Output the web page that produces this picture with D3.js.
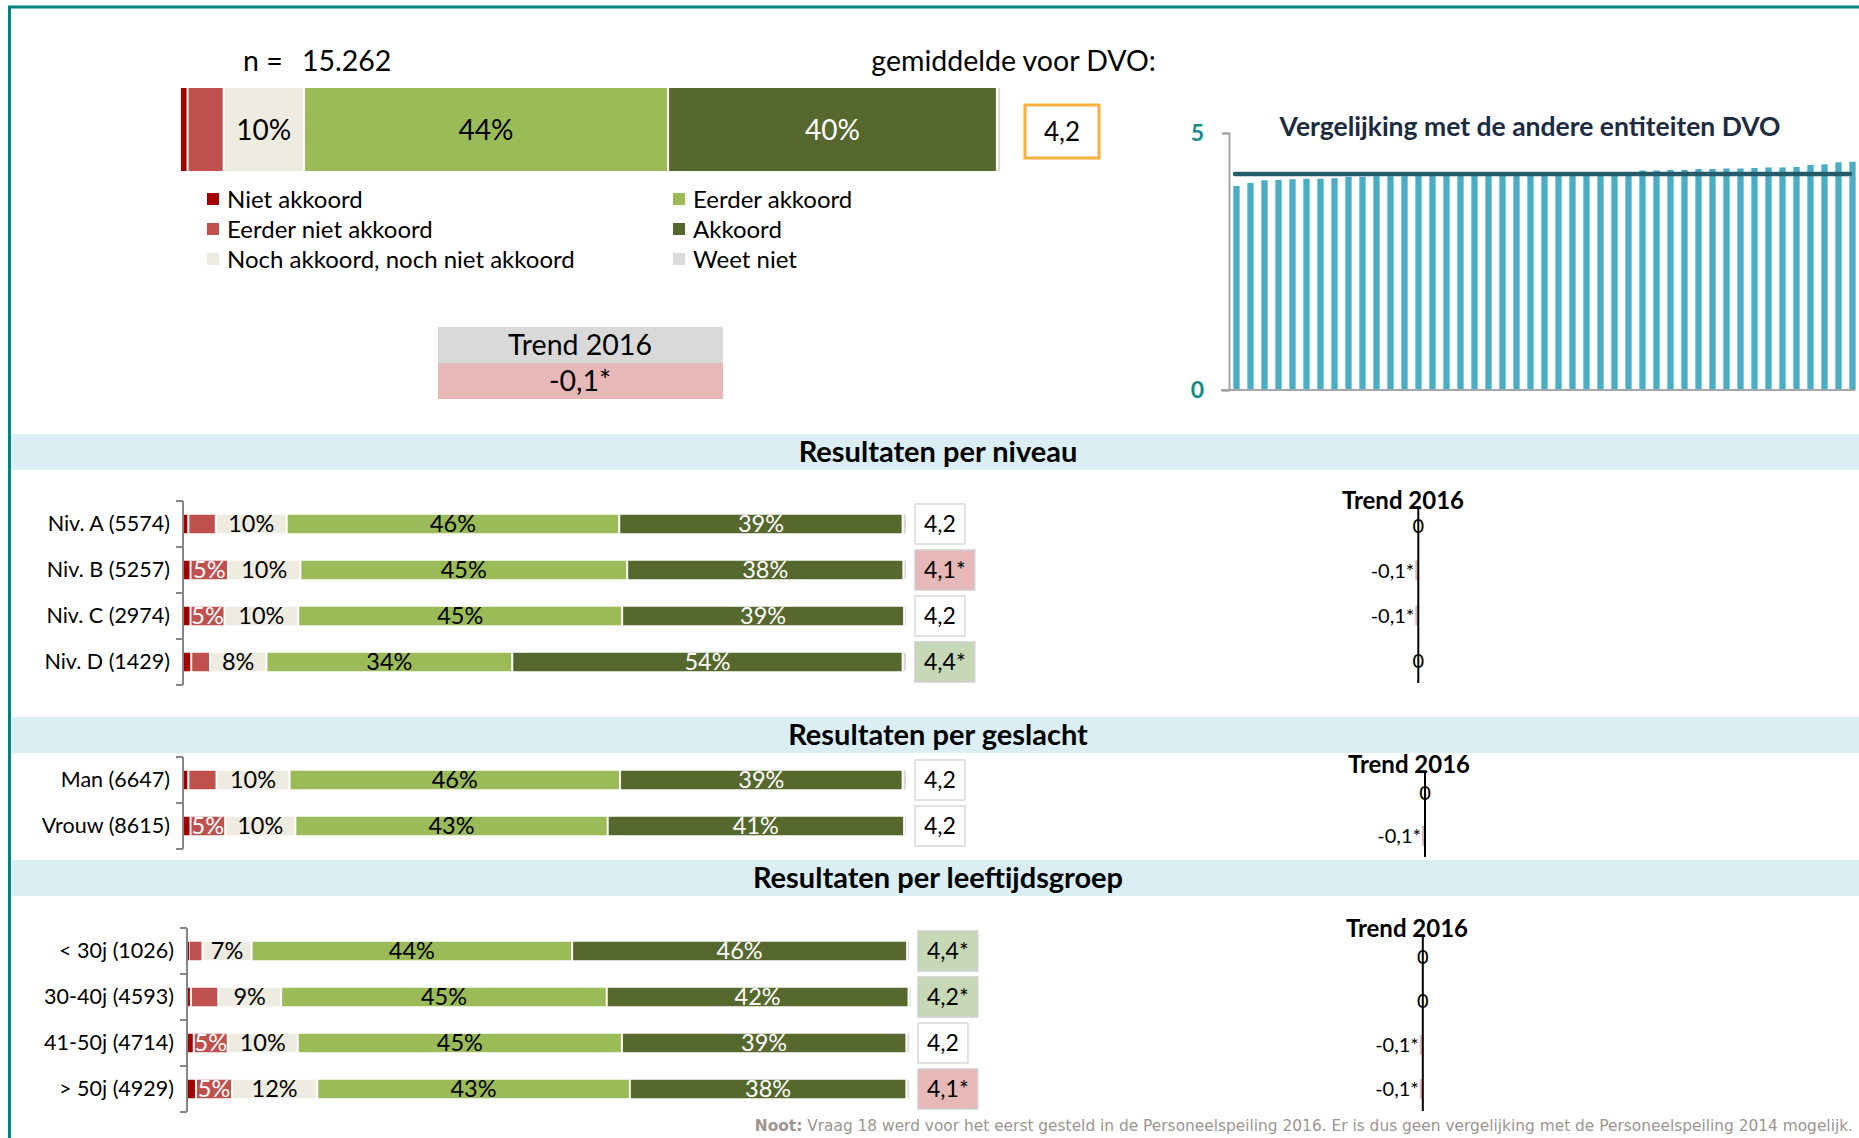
<!DOCTYPE html>
<html>
<head>
<meta charset="utf-8">
<script src="https://cdnjs.cloudflare.com/ajax/libs/d3/7.8.5/d3.min.js"></script>
<style>
  body { margin: 0; background: #fff; }
  svg { display: block; font-family: Lato, "Open Sans", sans-serif; }
</style>
</head>
<body>
<div id="chart"></div>
<script>
// ---- data ----
var answerCategories = ["Niet akkoord", "Eerder niet akkoord", "Noch akkoord, noch niet akkoord",
                        "Eerder akkoord", "Akkoord", "Weet niet"];

var totalN = "15.262";
var totalValues = [0.8, 4.4, 9.8, 44.4, 40.1, 0.5];
var totalMean = "4,2";
var totalTrend = "-0,1*";

var niveauLabels = ["Niv. A (5574)", "Niv. B (5257)", "Niv. C (2974)", "Niv. D (1429)"];
var niveauValues = [
    [0.6, 3.8, 9.8, 46.0, 39.2, 0.6],
    [0.9, 5.2, 10.0, 45.2, 38.2, 0.5],
    [0.9, 4.7, 10.2, 44.8, 39.0, 0.4],
    [1.0, 2.6, 7.8, 34.0, 54.0, 0.6]
];
var niveauMeans = ["4,2", "4,1*", "4,2", "4,4*"];
var niveauSignif = ["", "down", "", "up"];
var niveauTrend = [0, -0.1, -0.1, 0];
var niveauTrendLabels = ["0", "-0,1*", "-0,1*", "0"];

var geslachtLabels = ["Man (6647)", "Vrouw (8615)"];
var geslachtValues = [
    [0.6, 3.9, 10.1, 45.7, 39.1, 0.6],
    [0.9, 4.8, 9.7, 43.2, 41.0, 0.4]
];
var geslachtMeans = ["4,2", "4,2"];
var geslachtSignif = ["", ""];
var geslachtTrend = [0, -0.1];
var geslachtTrendLabels = ["0", "-0,1*"];

var leeftijdLabels = ["< 30j (1026)", "30-40j (4593)", "41-50j (4714)", "> 50j (4929)"];
var leeftijdValues = [
    [0.1, 1.9, 6.8, 44.4, 46.4, 0.4],
    [0.4, 3.8, 8.7, 45.1, 41.8, 0.2],
    [0.8, 4.7, 9.7, 44.9, 39.4, 0.5],
    [1.1, 5.0, 11.8, 43.3, 38.3, 0.5]
];
var leeftijdMeans = ["4,4*", "4,2*", "4,2", "4,1*"];
var leeftijdSignif = ["up", "up", "", "down"];
var leeftijdTrend = [0, 0, -0.1, -0.1];
var leeftijdTrendLabels = ["0", "0", "-0,1*", "-0,1*"];

// scores of the other DVO entities, sorted
var entityScores = [3.97, 4.03, 4.08, 4.09, 4.10, 4.11, 4.11, 4.12, 4.15, 4.15,
                    4.16, 4.16, 4.16, 4.17, 4.17, 4.17, 4.18, 4.18, 4.18, 4.19,
                    4.19, 4.19, 4.20, 4.20, 4.21, 4.21, 4.23, 4.24, 4.24, 4.27,
                    4.27, 4.28, 4.28, 4.30, 4.30, 4.31, 4.31, 4.32, 4.33, 4.33,
                    4.34, 4.38, 4.39, 4.43, 4.44];
var dvoMean = 4.2;
var entityTicks = [0, 5];

var noteBold = "Noot:";
var noteText = " Vraag 18 werd voor het eerst gesteld in de Personeelspeiling 2016. Er is dus geen vergelijking met de Personeelspeiling 2014 mogelijk.";

// ---- styles ----
var answerColors = ["#A50000", "#C0504D", "#EEECE1", "#9BBB59", "#56682D", "#DADADA"];
var labelColors = ["#fff", "#fff", "#000", "#000", "#fff", "#000"];
var boxFill = { "": "#fff", "down": "#E6B8B7", "up": "#C6D8B6" };
var teal = "#00827F";

var W = 1859, H = 1138;

var svg = d3.select("#chart")
    .append("svg")
        .attr("width", W)
        .attr("height", H);

// frame
svg.append("line").attr("x1", 8).attr("x2", W).attr("y1", 7).attr("y2", 7)
    .attr("stroke", teal).attr("stroke-width", 3);
svg.append("line").attr("x1", 9.5).attr("x2", 9.5).attr("y1", 6).attr("y2", H)
    .attr("stroke", teal).attr("stroke-width", 3);

// draws one stacked 100% bar
function stackedBar(g, values, xScale, yCenter, barH, fontSize) {
    var starts = [0].concat(Array.from(d3.cumsum(values)));
    var segs = values.map(function(v, i) { return { v: v, i: i, s: starts[i], e: starts[i] + v }; });

    g.selectAll(null)
        .data(segs)
        .enter()
        .append("rect")
            .attr("x", function(d) { return xScale(d.s) + (d.i > 0 ? 1 : 0); })
            .attr("width", function(d) { return Math.max(1, xScale(d.e) - xScale(d.s) - (d.i > 0 ? 2 : 1)); })
            .attr("y", yCenter - barH / 2)
            .attr("height", barH)
            .attr("fill", function(d) { return answerColors[d.i]; });

    g.selectAll(null)
        .data(segs.filter(function(d) { return Math.round(d.v) >= 5; }))
        .enter()
        .append("text")
            .attr("x", function(d) { return (xScale(d.s) + xScale(d.e)) / 2; })
            .attr("y", yCenter)
            .attr("dy", "0.36em")
            .attr("text-anchor", "middle")
            .attr("font-size", fontSize + "px")
            .attr("fill", function(d) { return labelColors[d.i]; })
            .text(function(d) { return Math.round(d.v) + "%"; });
}

// ---- top overview ----
svg.append("text").attr("x", 243).attr("y", 71).attr("font-size", "28.5px").text("n =");
svg.append("text").attr("x", 302).attr("y", 71).attr("font-size", "28.5px").text(totalN);
svg.append("text").attr("x", 1156).attr("y", 71).attr("font-size", "28.5px")
    .attr("text-anchor", "end").text("gemiddelde voor DVO:");

var xTotal = d3.scaleLinear().domain([0, 100]).range([181, 1001]);
var topG = svg.append("g");
stackedBar(topG, totalValues, xTotal, 129.5, 83, 28);

svg.append("rect").attr("x", 1025).attr("y", 105).attr("width", 74).attr("height", 53)
    .attr("fill", "#fff").attr("stroke", "#F8AF3C").attr("stroke-width", 3);
svg.append("text").attr("x", 1062).attr("y", 131.5).attr("dy", "0.36em")
    .attr("text-anchor", "middle").attr("font-size", "26px").text(totalMean);

// legend
var legend = svg.append("g")
    .selectAll("g")
    .data(answerCategories)
    .enter()
    .append("g")
        .attr("transform", function(d, i) {
            return "translate(" + (i < 3 ? 207 : 673) + "," + (199 + (i % 3) * 30) + ")";
        });
legend.append("rect").attr("x", 0).attr("y", -6).attr("width", 12).attr("height", 12)
    .attr("fill", function(d, i) { return answerColors[i]; });
legend.append("text").attr("x", 20).attr("dy", "0.36em").attr("font-size", "24px")
    .text(function(d) { return d; });

// trend box
svg.append("rect").attr("x", 438).attr("y", 327).attr("width", 285).attr("height", 36).attr("fill", "#D9D9D9");
svg.append("rect").attr("x", 438).attr("y", 363).attr("width", 285).attr("height", 36).attr("fill", "#E6B8B7");
svg.append("text").attr("x", 580).attr("y", 345).attr("dy", "0.36em").attr("text-anchor", "middle")
    .attr("font-size", "28.5px").text("Trend 2016");
svg.append("text").attr("x", 580).attr("y", 381).attr("dy", "0.36em").attr("text-anchor", "middle")
    .attr("font-size", "28.5px").text(totalTrend);

// ---- comparison with other entities ----
var xEnt = d3.scaleBand()
    .domain(d3.range(entityScores.length))
    .range([1229.5, 1859.5])
    .paddingInner(0.55)
    .paddingOuter(0.275);
var yEnt = d3.scaleLinear().domain([0, 5]).range([390, 133]);

svg.append("g")
    .selectAll("rect")
    .data(entityScores)
    .enter()
    .append("rect")
        .attr("x", function(d, i) { return xEnt(i); })
        .attr("width", xEnt.bandwidth())
        .attr("y", function(d) { return yEnt(d); })
        .attr("height", function(d) { return yEnt(0) - yEnt(d); })
        .attr("fill", "#4BACC6");

var yAxisEnt = svg.append("g")
    .attr("transform", "translate(1229,0)")
    .call(d3.axisLeft(yEnt).tickValues(entityTicks).tickFormat(d3.format("d"))
        .tickSize(7).tickPadding(18));
yAxisEnt.select(".domain").attr("stroke", "#A6A6A6").attr("stroke-width", 2);
yAxisEnt.selectAll(".tick line").attr("stroke", "#A6A6A6").attr("stroke-width", 2);
yAxisEnt.selectAll(".tick text")
    .attr("font-size", "23px").attr("font-weight", "bold").attr("fill", "#138C86")
    .attr("font-family", "Lato, sans-serif");

svg.append("line").attr("x1", 1221).attr("x2", 1855)
    .attr("y1", yEnt(0)).attr("y2", yEnt(0))
    .attr("stroke", "#A6A6A6").attr("stroke-width", 2);

svg.append("line")
    .attr("x1", 1235).attr("x2", 1850)
    .attr("y1", yEnt(dvoMean)).attr("y2", yEnt(dvoMean))
    .attr("stroke", "#245C6B").attr("stroke-width", 4.5)
    .attr("stroke-linecap", "round");

svg.append("text").attr("x", 1530).attr("y", 136).attr("text-anchor", "middle")
    .attr("font-size", "26.5px").attr("font-weight", "bold").attr("fill", "#1C2B3F")
    .text("Vergelijking met de andere entiteiten DVO");

// ---- breakdown sections ----
function section(cfg) {
    var g = svg.append("g");

    // header band
    g.append("rect").attr("x", 12).attr("y", cfg.bandY).attr("width", W - 12).attr("height", 36)
        .attr("fill", "#DAEEF3");
    g.append("text").attr("x", 938).attr("y", cfg.bandY + 18).attr("dy", "0.36em")
        .attr("text-anchor", "middle").attr("font-size", "29px").attr("font-weight", "bold")
        .text(cfg.title);

    var y = d3.scaleBand().domain(cfg.labels).range(cfg.rowRange);
    var x = d3.scaleLinear().domain([0, 100]).range(cfg.xRange);

    // bracket axis with category labels
    var axis = g.append("g")
        .attr("transform", "translate(" + cfg.xRange[0] + ",0)")
        .call(d3.axisLeft(y).tickSize(0).tickPadding(14));
    axis.select(".domain").remove();
    axis.selectAll(".tick text").attr("font-size", "21.5px").attr("font-family", "Lato, sans-serif")
        .attr("fill", "#000");
    var edges = cfg.labels.map(function(l) { return y(l); }).concat([cfg.rowRange[1]]);
    g.append("line").attr("x1", cfg.xRange[0] - 1).attr("x2", cfg.xRange[0] - 1)
        .attr("y1", cfg.rowRange[0]).attr("y2", cfg.rowRange[1])
        .attr("stroke", "#868686").attr("stroke-width", 2);
    g.selectAll(null).data(edges).enter().append("line")
        .attr("x1", cfg.xRange[0] - 8).attr("x2", cfg.xRange[0] - 1)
        .attr("y1", function(d) { return d; }).attr("y2", function(d) { return d; })
        .attr("stroke", "#868686").attr("stroke-width", 2);

    cfg.labels.forEach(function(lab, i) {
        var cy = y(lab) + y.bandwidth() / 2;
        stackedBar(g, cfg.values[i], x, cy, 18.5, 23.5);

        // mean box
        var bx = cfg.xRange[1] + 8;
        var box = g.append("rect").attr("x", bx).attr("y", cy - 20).attr("height", 40)
            .attr("fill", boxFill[cfg.signif[i]])
            .attr("stroke", cfg.signif[i] ? "#D0D0D0" : "#D9D9D9").attr("stroke-width", 1.5);
        var t = g.append("text").attr("x", bx + 9).attr("y", cy).attr("dy", "0.36em")
            .attr("font-size", "23px").text(cfg.means[i]);
        box.attr("width", t.node().getComputedTextLength() + 18);
    });

    // trend mini chart
    var ty = d3.scaleBand().domain(cfg.labels).range(cfg.trendRows);
    var tx = d3.scaleLinear().domain([-1, 1]).range([cfg.trendX - 30, cfg.trendX + 30]);

    g.append("text").attr("x", cfg.trendTitle[0]).attr("y", cfg.trendTitle[1])
        .attr("text-anchor", "middle").attr("font-size", "24px").attr("font-weight", "bold")
        .text("Trend 2016");

    g.selectAll(null).data(cfg.trend).enter().append("rect")
        .attr("x", function(d) { return tx(Math.min(0, d)); })
        .attr("width", function(d) { return Math.abs(tx(d) - tx(0)); })
        .attr("y", function(d, i) { return ty(cfg.labels[i]) + ty.bandwidth() / 2 - 10; })
        .attr("height", 20)
        .attr("fill", "#E6B8B7");

    g.append("line").attr("x1", tx(0)).attr("x2", tx(0))
        .attr("y1", cfg.trendAxis[0]).attr("y2", cfg.trendAxis[1])
        .attr("stroke", "#000").attr("stroke-width", 2);

    g.selectAll(null).data(cfg.trend).enter().append("text")
        .attr("x", function(d) { return d === 0 ? tx(0) : tx(d) - 1; })
        .attr("y", function(d, i) { return ty(cfg.labels[i]) + ty.bandwidth() / 2; })
        .attr("dy", "0.36em")
        .attr("text-anchor", function(d) { return d === 0 ? "middle" : "end"; })
        .attr("font-size", "20px")
        .text(function(d, i) { return cfg.trendLabels[i]; });
}

section({
    title: "Resultaten per niveau", bandY: 434,
    labels: niveauLabels, values: niveauValues, means: niveauMeans, signif: niveauSignif,
    trend: niveauTrend, trendLabels: niveauTrendLabels,
    rowRange: [501, 685], xRange: [184, 907],
    trendX: 1418.3, trendRows: [503, 683], trendAxis: [506, 683], trendTitle: [1403, 509]
});

section({
    title: "Resultaten per geslacht", bandY: 717,
    labels: geslachtLabels, values: geslachtValues, means: geslachtMeans, signif: geslachtSignif,
    trend: geslachtTrend, trendLabels: geslachtTrendLabels,
    rowRange: [757, 849], xRange: [184, 907],
    trendX: 1425, trendRows: [772, 857], trendAxis: [771, 857], trendTitle: [1409, 773]
});

section({
    title: "Resultaten per leeftijdsgroep", bandY: 860,
    labels: leeftijdLabels, values: leeftijdValues, means: leeftijdMeans, signif: leeftijdSignif,
    trend: leeftijdTrend, trendLabels: leeftijdTrendLabels,
    rowRange: [928, 1112], xRange: [188, 910],
    trendX: 1422.8, trendRows: [935, 1111], trendAxis: [935, 1111], trendTitle: [1407, 937]
});

// footnote
var note = svg.append("text").attr("x", 1853).attr("y", 1131).attr("text-anchor", "end")
    .attr("font-family", "'DejaVu Sans', Verdana, sans-serif").attr("font-size", "15.4px")
    .attr("fill", "#9C9590");
note.append("tspan").attr("font-weight", "bold").text(noteBold);
note.append("tspan").text(noteText);
</script>
</body>
</html>
